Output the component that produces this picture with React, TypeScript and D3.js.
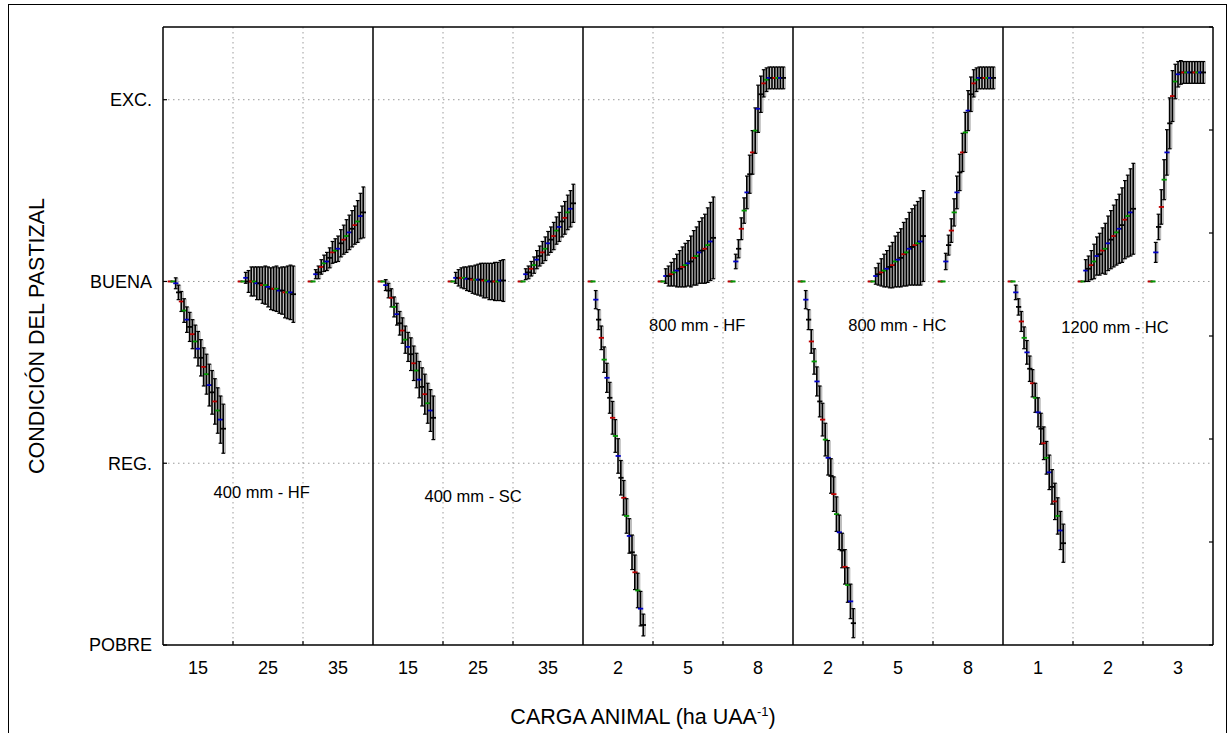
import React from "react";
import * as d3 from "d3";

// ---------- DATA ----------
const panels = ["400 mm - HF", "400 mm - SC", "800 mm - HF", "800 mm - HC", "1200 mm - HC"];
const columnKeys = ["a", "b", "c"];
const xTickLabels = [
  ["15", "25", "35"],
  ["15", "25", "35"],
  ["2", "5", "8"],
  ["2", "5", "8"],
  ["1", "2", "3"],
];
const conditionLabels = ["POBRE", "REG.", "BUENA", "EXC."];
const conditionValues = [0, 1, 2, 3];
// panel label anchor: column units within panel, condition units
const panelLabelX = [1.41, 1.43, 1.63, 1.49, 1.6];
const panelLabelY = [0.84, 0.82, 1.76, 1.76, 1.75];
const markerColors = ["#c00000", "#009a00", "#0000c8", "#000000"];

// means (condition scale: POBRE=0, REG=1, BUENA=2, EXC=3)
const meanP1G1 = [2.0, 2.0, 1.99, 1.94, 1.89, 1.84, 1.79, 1.75, 1.71, 1.67, 1.63, 1.58, 1.53, 1.49, 1.43, 1.39, 1.34, 1.29, 1.24, 1.19];
const errP1G1 = [0, 0, 0.03, 0.04, 0.055, 0.065, 0.07, 0.08, 0.08, 0.09, 0.095, 0.1, 0.105, 0.11, 0.115, 0.12, 0.125, 0.125, 0.13, 0.135];
const meanP1G2 = [2.0, 2.0, 2.02, 2.0, 2.0, 2.0, 1.99, 1.99, 1.98, 1.98, 1.97, 1.96, 1.96, 1.96, 1.95, 1.95, 1.94, 1.94, 1.94, 1.93];
const errP1G2 = [0, 0, 0.03, 0.06, 0.08, 0.08, 0.09, 0.09, 0.1, 0.105, 0.11, 0.115, 0.12, 0.125, 0.125, 0.13, 0.14, 0.145, 0.15, 0.155];
const meanP1G3 = [2.0, 2.0, 2.04, 2.05, 2.08, 2.1, 2.11, 2.13, 2.16, 2.17, 2.18, 2.21, 2.23, 2.25, 2.27, 2.29, 2.31, 2.33, 2.36, 2.38];
const errP1G3 = [0, 0, 0.025, 0.035, 0.04, 0.045, 0.05, 0.055, 0.06, 0.065, 0.07, 0.075, 0.08, 0.09, 0.095, 0.1, 0.105, 0.115, 0.125, 0.14];

const meanP2G1 = [2.0, 2.0, 1.98, 1.95, 1.91, 1.86, 1.82, 1.77, 1.73, 1.68, 1.64, 1.6, 1.55, 1.51, 1.46, 1.42, 1.38, 1.33, 1.29, 1.25];
const errP2G1 = [0, 0, 0.03, 0.04, 0.05, 0.055, 0.06, 0.065, 0.07, 0.075, 0.08, 0.09, 0.095, 0.095, 0.1, 0.105, 0.11, 0.11, 0.115, 0.12];
const meanP2G2 = [2.0, 2.0, 2.02, 2.02, 2.02, 2.02, 2.015, 2.015, 2.01, 2.01, 2.01, 2.01, 2.005, 2.005, 2.0, 2.0, 2.0, 2.0, 2.005, 2.005];
const errP2G2 = [0, 0, 0.03, 0.045, 0.055, 0.06, 0.065, 0.07, 0.075, 0.08, 0.085, 0.09, 0.095, 0.095, 0.1, 0.1, 0.105, 0.105, 0.11, 0.115];
const meanP2G3 = [2.0, 2.0, 2.04, 2.05, 2.07, 2.09, 2.12, 2.14, 2.16, 2.18, 2.21, 2.23, 2.25, 2.28, 2.3, 2.33, 2.35, 2.38, 2.4, 2.43];
const errP2G3 = [0, 0, 0.03, 0.035, 0.04, 0.045, 0.05, 0.055, 0.06, 0.065, 0.065, 0.07, 0.075, 0.075, 0.08, 0.085, 0.09, 0.095, 0.1, 0.105];

const meanP3G1 = [2.0, 2.0, 1.9, 1.79, 1.69, 1.57, 1.47, 1.36, 1.25, 1.15, 1.04, 0.92, 0.81, 0.71, 0.6, 0.51, 0.4, 0.3, 0.2, 0.11];
const errP3G1 = [0, 0, 0.05, 0.055, 0.065, 0.07, 0.08, 0.085, 0.09, 0.09, 0.095, 0.095, 0.095, 0.095, 0.095, 0.095, 0.095, 0.095, 0.095, 0.06];
const meanP3G2 = [2.0, 2.0, 2.03, 2.03, 2.04, 2.05, 2.06, 2.07, 2.08, 2.09, 2.1, 2.11, 2.13, 2.14, 2.16, 2.17, 2.18, 2.2, 2.22, 2.24];
const errP3G2 = [0, 0, 0.04, 0.055, 0.065, 0.075, 0.09, 0.1, 0.11, 0.12, 0.125, 0.14, 0.15, 0.16, 0.17, 0.18, 0.19, 0.205, 0.215, 0.225];
const meanP3G3 = [2.0, 2.0, 2.11, 2.18, 2.29, 2.39, 2.49, 2.59, 2.71, 2.83, 2.95, 3.03, 3.09, 3.11, 3.12, 3.12, 3.12, 3.12, 3.12, 3.12];
const errP3G3 = [0, 0, 0.04, 0.05, 0.06, 0.07, 0.09, 0.105, 0.12, 0.125, 0.13, 0.1, 0.075, 0.065, 0.06, 0.06, 0.06, 0.06, 0.06, 0.06];

const meanP4G1 = [2.0, 2.0, 1.9, 1.79, 1.67, 1.56, 1.45, 1.34, 1.24, 1.13, 1.03, 0.93, 0.83, 0.72, 0.62, 0.52, 0.43, 0.33, 0.24, 0.12];
const errP4G1 = [0, 0, 0.05, 0.055, 0.065, 0.07, 0.08, 0.085, 0.09, 0.09, 0.095, 0.095, 0.095, 0.095, 0.095, 0.095, 0.095, 0.095, 0.095, 0.08];
const meanP4G2 = [2.0, 2.0, 2.03, 2.04, 2.05, 2.06, 2.07, 2.08, 2.09, 2.11, 2.12, 2.13, 2.15, 2.16, 2.18, 2.19, 2.2, 2.21, 2.22, 2.25];
const errP4G2 = [0, 0, 0.045, 0.06, 0.075, 0.09, 0.1, 0.115, 0.125, 0.14, 0.15, 0.16, 0.175, 0.185, 0.2, 0.21, 0.22, 0.23, 0.24, 0.25];
const meanP4G3 = [2.0, 2.0, 2.11, 2.2, 2.28, 2.38, 2.49, 2.6, 2.71, 2.82, 2.94, 3.03, 3.09, 3.11, 3.12, 3.12, 3.12, 3.12, 3.12, 3.12];
const errP4G3 = [0, 0, 0.045, 0.055, 0.065, 0.075, 0.09, 0.1, 0.105, 0.11, 0.11, 0.095, 0.075, 0.065, 0.06, 0.06, 0.06, 0.06, 0.06, 0.06];

const meanP5G1 = [2.0, 2.0, 1.94, 1.86, 1.78, 1.69, 1.61, 1.52, 1.44, 1.36, 1.28, 1.19, 1.11, 1.03, 0.95, 0.87, 0.79, 0.71, 0.63, 0.56];
const errP5G1 = [0, 0, 0.04, 0.045, 0.055, 0.06, 0.065, 0.07, 0.075, 0.08, 0.08, 0.085, 0.09, 0.09, 0.095, 0.095, 0.1, 0.1, 0.105, 0.105];
const meanP5G2 = [2.0, 2.0, 2.06, 2.07, 2.09, 2.11, 2.14, 2.15, 2.17, 2.18, 2.21, 2.23, 2.25, 2.27, 2.29, 2.31, 2.34, 2.36, 2.38, 2.4];
const errP5G2 = [0, 0, 0.06, 0.07, 0.08, 0.095, 0.105, 0.115, 0.125, 0.14, 0.15, 0.16, 0.17, 0.18, 0.19, 0.205, 0.215, 0.225, 0.24, 0.25];
const meanP5G3 = [2.0, 2.0, 2.16, 2.3, 2.41, 2.56, 2.71, 2.87, 3.02, 3.1, 3.14, 3.15, 3.15, 3.15, 3.15, 3.15, 3.15, 3.15, 3.15, 3.15];
const errP5G3 = [0, 0, 0.055, 0.07, 0.095, 0.11, 0.125, 0.14, 0.14, 0.095, 0.07, 0.065, 0.06, 0.06, 0.06, 0.06, 0.06, 0.06, 0.06, 0.06];

const groupMeans = [
  [meanP1G1, meanP1G2, meanP1G3],
  [meanP2G1, meanP2G2, meanP2G3],
  [meanP3G1, meanP3G2, meanP3G3],
  [meanP4G1, meanP4G2, meanP4G3],
  [meanP5G1, meanP5G2, meanP5G3],
];
const groupErrs = [
  [errP1G1, errP1G2, errP1G3],
  [errP2G1, errP2G2, errP2G3],
  [errP3G1, errP3G2, errP3G3],
  [errP4G1, errP4G2, errP4G3],
  [errP5G1, errP5G2, errP5G3],
];

// ---------- LAYOUT ----------
const W = 1228;
const H = 733;
const plotLeft = 163;
const plotRight = 1213;
const plotTop = 27;
const plotBottom = 645;
const FONT = "'Liberation Sans', Arial, sans-serif";

export default function App() {
  const xPanel = d3.scaleBand<string>().domain(panels).range([plotLeft, plotRight]);
  const pw = xPanel.bandwidth();
  const xCol = d3.scaleBand<string>().domain(columnKeys).range([0, pw]);
  const cw = xCol.bandwidth();
  const xIdx = d3.scaleLinear().domain([0, 19]).range([cw * 0.1, cw * 0.86]);
  const step = xIdx(1) - xIdx(0);
  const y = d3.scaleLinear().domain([0, 3.4]).range([plotBottom, plotTop]);
  const yRight = d3.scaleLinear().domain([0, 6]).range([plotBottom, plotTop]);

  const grid = "#9a9a9a";

  return (
    <svg
      width={W}
      height={H}
      style={{ position: "absolute", left: 0, top: 0, background: "#fff" }}
      fontFamily={FONT}
    >
      <rect x={8.5} y={4.5} width={1218} height={760} fill="#fff" stroke="#000" strokeWidth={1} />

      {/* horizontal gridlines */}
      {conditionValues
        .filter((v) => v > 0)
        .map((v) => (
          <line
            key={"hg" + v}
            x1={plotLeft}
            x2={plotRight}
            y1={y(v)}
            y2={y(v)}
            stroke={grid}
            strokeWidth={1}
            strokeDasharray="1.5,3.5"
          />
        ))}
      {/* vertical gridlines */}
      {panels.map((p) =>
        columnKeys.slice(1).map((c) => (
          <line
            key={"vg" + p + c}
            x1={xPanel(p)! + xCol(c)!}
            x2={xPanel(p)! + xCol(c)!}
            y1={plotTop}
            y2={plotBottom}
            stroke={grid}
            strokeWidth={1}
            strokeDasharray="1.5,3.5"
          />
        ))
      )}

      {/* data */}
      {panels.map((p, pi) =>
        columnKeys.map((c, gi) => {
          const x0 = xPanel(p)! + xCol(c)!;
          const means = groupMeans[pi][gi];
          const errs = groupErrs[pi][gi];
          return (
            <g key={"g" + pi + gi}>
              {means.map((m, i) => {
                const px = x0 + xIdx(i);
                const hi = y(m + errs[i]);
                const lo = y(m - errs[i]);
                const col = markerColors[i % 4];
                return (
                  <g key={i}>
                    {errs[i] > 0 && (
                      <rect x={px} y={hi} width={step} height={lo - hi} fill="#bdbdbd" />
                    )}
                    {errs[i] > 0 && (
                      <line x1={px} x2={px} y1={hi} y2={lo} stroke="#000" strokeWidth={1.6} />
                    )}
                    <line x1={px - 1.8} x2={px + 2} y1={hi} y2={hi} stroke="#000" strokeWidth={1.2} />
                    <line x1={px - 1.8} x2={px + 2} y1={lo} y2={lo} stroke="#000" strokeWidth={1.2} />
                    <line x1={px - 2.4} x2={px + 2.8} y1={y(m)} y2={y(m)} stroke={col} strokeWidth={1.8} />
                  </g>
                );
              })}
            </g>
          );
        })
      )}

      {/* panel frames */}
      <line x1={plotLeft} x2={plotRight} y1={plotTop} y2={plotTop} stroke="#000" strokeWidth={1.5} />
      <line x1={plotLeft} x2={plotRight} y1={plotBottom} y2={plotBottom} stroke="#000" strokeWidth={1.5} />
      {panels.map((p) => (
        <line
          key={"pf" + p}
          x1={xPanel(p)!}
          x2={xPanel(p)!}
          y1={plotTop}
          y2={plotBottom}
          stroke="#000"
          strokeWidth={1.5}
        />
      ))}
      <line x1={plotRight} x2={plotRight} y1={plotTop} y2={plotBottom} stroke="#000" strokeWidth={1.5} />

      {/* left axis ticks + labels */}
      {conditionValues.map((v, i) => (
        <g key={"ly" + v}>
          <line x1={plotLeft} x2={plotLeft + 4} y1={y(v)} y2={y(v)} stroke="#000" strokeWidth={1.2} />
          <text x={152} y={y(v)} dy="0.36em" textAnchor="end" fontSize={18} fill="#000">
            {conditionLabels[i]}
          </text>
        </g>
      ))}
      {/* right axis ticks */}
      {yRight.ticks(6).map((t) => (
        <line
          key={"ry" + t}
          x1={plotRight - 4}
          x2={plotRight}
          y1={yRight(t)}
          y2={yRight(t)}
          stroke="#000"
          strokeWidth={1.2}
        />
      ))}

      {/* bottom ticks + labels */}
      {panels.map((p, pi) =>
        columnKeys.map((c, ci) => (
          <g key={"xt" + pi + ci}>
            {ci > 0 && (
              <line
                x1={xPanel(p)! + xCol(c)!}
                x2={xPanel(p)! + xCol(c)!}
                y1={plotBottom}
                y2={plotBottom - 4}
                stroke="#000"
                strokeWidth={1.2}
              />
            )}
            <text
              x={xPanel(p)! + xCol(c)! + cw / 2}
              y={plotBottom + 23}
              dy="0.36em"
              textAnchor="middle"
              fontSize={18}
              fill="#000"
            >
              {xTickLabels[pi][ci]}
            </text>
          </g>
        ))
      )}

      {/* panel labels */}
      {panels.map((p, pi) => (
        <text
          key={"pl" + p}
          x={xPanel(p)! + panelLabelX[pi] * cw}
          y={y(panelLabelY[pi])}
          dy="0.36em"
          textAnchor="middle"
          fontSize={16.5}
          fill="#000"
        >
          {p}
        </text>
      ))}

      {/* axis titles */}
      <text
        transform={`translate(36,${(plotTop + plotBottom) / 2}) rotate(-90)`}
        textAnchor="middle"
        dy="0.36em"
        fontSize={21.5}
        fill="#000"
      >
        CONDICIÓN DEL PASTIZAL
      </text>
      <text x={643} y={724} textAnchor="middle" fontSize={21.5} fill="#000">
        CARGA ANIMAL (ha UAA
        <tspan dy={-8} fontSize={13}>-1</tspan>
        <tspan dy={8}>)</tspan>
      </text>
    </svg>
  );
}
